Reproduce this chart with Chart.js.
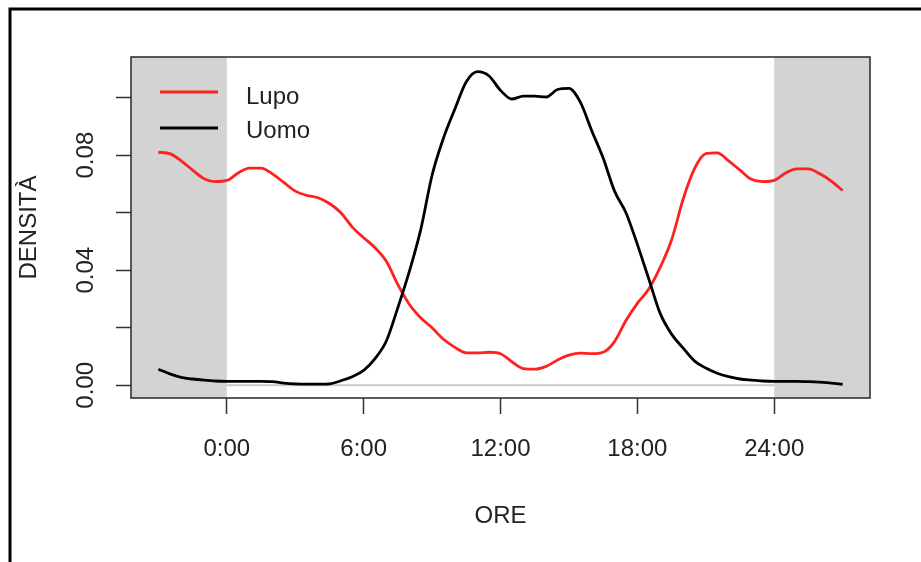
<!DOCTYPE html>
<html><head><meta charset="utf-8">
<style>html,body{margin:0;padding:0;background:#fff;overflow:hidden}</style>
<script src="https://cdn.jsdelivr.net/npm/chart.js@4.4.1/dist/chart.umd.min.js"></script>
</head><body>
<canvas id="c" width="921" height="562"></canvas>
<script>
const hours = [-3,-2.5,-2,-1.5,-1,-0.5,0,0.5,1,1.5,2,2.5,3,3.5,4,4.5,5,5.5,6,6.5,7,7.5,8,8.5,9,9.5,10,10.5,11,11.5,12,12.5,13,13.5,14,14.5,15,15.5,16,16.5,17,17.5,18,18.5,19,19.5,20,20.5,21,21.5,22,22.5,23,23.5,24,24.5,25,25.5,26,26.5,27];
const lupo = [0.0810,0.0805,0.0780,0.0748,0.0718,0.0708,0.0712,0.0738,0.0755,0.0755,0.0735,0.0705,0.0675,0.0660,0.0652,0.0632,0.0600,0.0550,0.0513,0.0478,0.0430,0.0350,0.0282,0.0235,0.0200,0.0160,0.0132,0.0113,0.0113,0.0115,0.0110,0.0082,0.0058,0.0056,0.0066,0.0088,0.0105,0.0112,0.0110,0.0115,0.0152,0.0225,0.0285,0.0335,0.0410,0.0505,0.0645,0.0752,0.0805,0.0808,0.0780,0.0748,0.0716,0.0708,0.0712,0.0738,0.0752,0.0752,0.0735,0.0710,0.0677];
const uomo = [0.0056,0.0040,0.0028,0.0022,0.0018,0.0015,0.0014,0.0014,0.0014,0.0014,0.0013,0.0008,0.0005,0.0004,0.0004,0.0005,0.0016,0.0030,0.0052,0.0093,0.0155,0.0270,0.0395,0.0540,0.0730,0.0859,0.0960,0.1055,0.1090,0.1075,0.1025,0.0995,0.1005,0.1005,0.1002,0.1028,0.1032,0.0984,0.0885,0.0790,0.0675,0.0600,0.0490,0.0370,0.0250,0.0178,0.0130,0.0085,0.0060,0.0042,0.0030,0.0022,0.0018,0.0015,0.0014,0.0014,0.0014,0.0013,0.0011,0.0008,0.0003];
const seriesNames = ["Lupo", "Uomo"];
const seriesColors = ["#ff2020", "#000000"];
const xTicks = [0, 6, 12, 18, 24];
const xTickLabels = ["0:00", "6:00", "12:00", "18:00", "24:00"];
const yTicks = [0, 0.02, 0.04, 0.06, 0.08, 0.10];
const yTickLabels = ["0.00", "", "0.04", "", "0.08", ""];
const shadeBefore = 0, shadeAfter = 24;

const FONT = '"Liberation Sans", Arial, sans-serif';
const TXT = '#222';

const rPlugin = {
  id: 'rstyle',
  beforeDraw(chart) {
    const ctx = chart.ctx;
    ctx.save();
    ctx.fillStyle = '#fff';
    ctx.fillRect(0, 0, chart.width, chart.height);
    ctx.strokeStyle = '#000';
    ctx.lineWidth = 3;
    ctx.beginPath();
    ctx.moveTo(10, chart.height + 5);
    ctx.lineTo(10, 9);
    ctx.lineTo(chart.width + 5, 9);
    ctx.stroke();
    ctx.restore();
  },
  beforeDatasetsDraw(chart) {
    const {ctx, chartArea: a, scales: {x, y}} = chart;
    ctx.save();
    const y0 = y.getPixelForValue(0);
    ctx.strokeStyle = '#c8c8c8';
    ctx.lineWidth = 2;
    ctx.beginPath();
    ctx.moveTo(a.left, y0);
    ctx.lineTo(a.right, y0);
    ctx.stroke();
    ctx.fillStyle = '#d3d3d3';
    const xa = x.getPixelForValue(shadeBefore), xb = x.getPixelForValue(shadeAfter);
    ctx.fillRect(a.left, a.top, xa - a.left, a.bottom - a.top);
    ctx.fillRect(xb, a.top, a.right - xb, a.bottom - a.top);
    ctx.restore();
  },
  afterDatasetsDraw(chart) {
    const {ctx, chartArea: a} = chart;
    ctx.save();
    ctx.strokeStyle = '#333';
    ctx.lineWidth = 1.6;
    ctx.strokeRect(a.left, a.top, a.right - a.left, a.bottom - a.top);
    // legend
    chart.data.datasets.forEach((ds, i) => {
      const ly = 92 + i * 36;
      ctx.strokeStyle = ds.borderColor;
      ctx.lineWidth = 3;
      ctx.beginPath();
      ctx.moveTo(a.left + 29, ly);
      ctx.lineTo(a.left + 87, ly);
      ctx.stroke();
      ctx.fillStyle = TXT;
      ctx.font = '24px ' + FONT;
      ctx.textAlign = 'left';
      ctx.textBaseline = 'middle';
      ctx.fillText(ds.label, a.left + 115, ly + 5 - i * 2);
    });
    ctx.restore();
  }
};

new Chart(document.getElementById('c'), {
  type: 'line',
  data: {
    datasets: [
      { label: seriesNames[0], data: hours.map((h, i) => ({x: h, y: lupo[i]})), borderColor: seriesColors[0], borderWidth: 2.8, pointRadius: 0, cubicInterpolationMode: 'monotone', fill: false, order: 1 },
      { label: seriesNames[1], data: hours.map((h, i) => ({x: h, y: uomo[i]})), borderColor: seriesColors[1], borderWidth: 2.8, pointRadius: 0, cubicInterpolationMode: 'monotone', fill: false, order: 0 }
    ]
  },
  options: {
    responsive: false,
    animation: false,
    devicePixelRatio: 1,
    layout: { padding: { left: 0, right: 51, top: 57, bottom: 0 } },
    plugins: { legend: { display: false }, tooltip: { enabled: false } },
    scales: {
      x: {
        type: 'linear', min: -4.2, max: 28.2,
        afterBuildTicks: s => { s.ticks = xTicks.map(v => ({value: v})); },
        afterFit: s => { s.height = 562 - 398; },
        grid: { drawOnChartArea: false, drawTicks: true, tickLength: 16, tickColor: '#333', tickWidth: 1.5 },
        border: { display: false },
        ticks: { callback: (v, i) => xTickLabels[i], autoSkip: false, maxRotation: 0, padding: 21, color: TXT, font: { family: FONT, size: 24 } },
        title: { display: true, text: 'ORE', color: TXT, font: { family: FONT, size: 24 }, padding: { top: 0, bottom: 31 } }
      },
      y: {
        type: 'linear', min: -0.0044, max: 0.1141,
        afterBuildTicks: s => { s.ticks = yTicks.map(v => ({value: v})); },
        afterFit: s => { s.width = 131; },
        grid: { drawOnChartArea: false, drawTicks: true, tickLength: 15, tickColor: '#333', tickWidth: 1.5 },
        border: { display: false },
        ticks: { callback: (v, i) => yTickLabels[i], autoSkip: false, minRotation: 90, maxRotation: 90, crossAlign: 'center', padding: 6, color: TXT, font: { family: FONT, size: 24 } },
        title: { display: true, text: 'DENSITÀ', color: TXT, font: { family: FONT, size: 24 }, padding: { top: 15, bottom: 0 } }
      }
    }
  },
  plugins: [rPlugin]
});
</script>
</body></html>
